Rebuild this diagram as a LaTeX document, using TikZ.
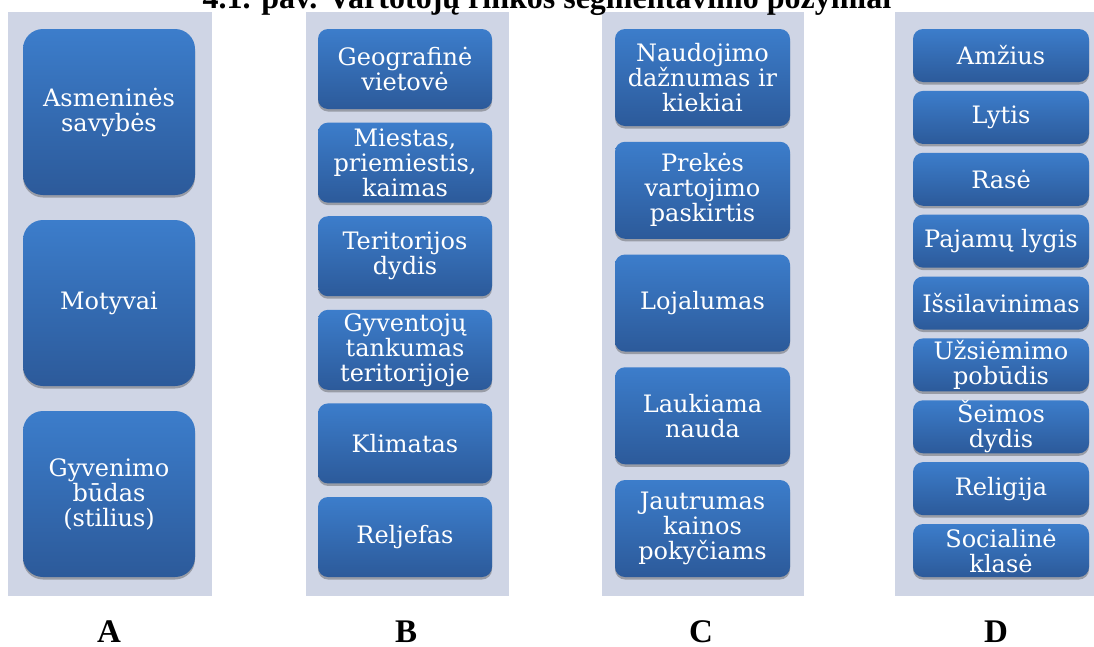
\documentclass[tikz,border=0pt]{standalone}
\usepackage{fontspec}
\setmainfont{Liberation Serif}
\newfontfamily\boxfont{DejaVu Serif}
\usetikzlibrary{shadows}
\definecolor{panelbg}{HTML}{CFD5E5}
\definecolor{boxtop}{HTML}{3C7DCB}
\definecolor{boxbot}{HTML}{2C5A9A}
\tikzset{
  seg/.style={rectangle, rounded corners=10pt, top color=boxtop, bottom color=boxbot,
    draw=none, text=white, font=\boxfont\fontsize{24}{25}\selectfont, align=center,
    inner sep=0pt,
    drop shadow={shadow xshift=0pt, shadow yshift=-2.5pt, opacity=.35, fill=black!80}},
  segA/.style={seg, rounded corners=20pt, minimum width=172pt, minimum height=166pt},
  segB/.style={seg, minimum width=174pt, minimum height=80pt},
  segC/.style={seg, minimum width=175pt, minimum height=97pt},
  segD/.style={seg, minimum width=176pt, minimum height=53pt},
  lbl/.style={anchor=base, font=\bfseries\fontsize{32}{36}\selectfont, text=black},
  letter/.style={lbl, font=\bfseries\fontsize{33}{36}\selectfont},
}
\begin{document}
\begin{tikzpicture}[x=1pt, y=-1pt]
\useasboundingbox (0,0) rectangle (1094,646);
\fill[white] (0,0) rectangle (1094,646);
% panels
\fill[panelbg] (8,12) rectangle (212,596);
\fill[panelbg] (306,12) rectangle (509,596);
\fill[panelbg] (602,12) rectangle (804,596);
\fill[panelbg] (895,12) rectangle (1094,596);
% title (cut at the top as in the reference)
\node[lbl] (title) at (547,8) {4.1. pav. Vartotojų rinkos segmentavimo požymiai};
% A
\node[segA] (a1) at (109,112) {Asmeninės\\savybės};
\node[segA] (a2) at (109,303) {Motyvai};
\node[segA] (a3) at (109,494) {Gyvenimo\\būdas\\(stilius)};
% B
\node[segB] (b1) at (405,69) {Geografinė\\vietovė};
\node[segB] (b2) at (405,162.6) {Miestas,\\priemiestis,\\kaimas};
\node[segB] (b3) at (405,256.2) {Teritorijos\\dydis};
\node[segB] (b4) at (405,349.8) {Gyventojų\\tankumas\\teritorijoje};
\node[segB] (b5) at (405,443.4) {Klimatas};
\node[segB] (b6) at (405,537) {Reljefas};
% C
\node[segC] (c1) at (702.5,77.5) {Naudojimo\\dažnumas ir\\kiekiai};
\node[segC] (c2) at (702.5,190.25) {Prekės\\vartojimo\\paskirtis};
\node[segC] (c3) at (702.5,303) {Lojalumas};
\node[segC] (c4) at (702.5,415.75) {Laukiama\\nauda};
\node[segC] (c5) at (702.5,528.5) {Jautrumas\\kainos\\pokyčiams};
% D
\node[segD] (d1) at (1001,55.5) {Amžius};
\node[segD] (d2) at (1001,117.4) {Lytis};
\node[segD] (d3) at (1001,179.25) {Rasė};
\node[segD] (d4) at (1001,241.1) {Pajamų lygis};
\node[segD] (d5) at (1001,303) {Išsilavinimas};
\node[segD] (d6) at (1001,364.9) {Užsiėmimo\\pobūdis};
\node[segD] (d7) at (1001,426.75) {Šeimos\\dydis};
\node[segD] (d8) at (1001,488.6) {Religija};
\node[segD] (d9) at (1001,550.5) {Socialinė\\klasė};
% letters
\node[letter] (la) at (109,642) {A};
\node[letter] (lb) at (406,642) {B};
\node[letter] (lc) at (701,642) {C};
\node[letter] (ld) at (996,642) {D};
\end{tikzpicture}
\end{document}
